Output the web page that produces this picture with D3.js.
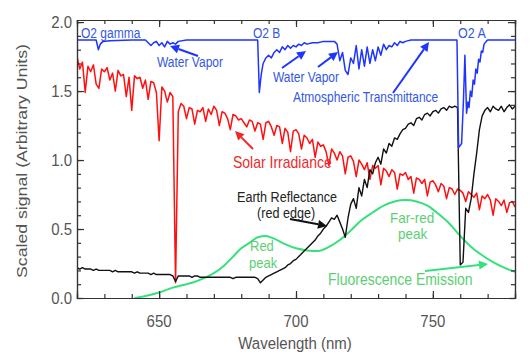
<!DOCTYPE html>
<html><head><meta charset="utf-8">
<script src="https://cdn.jsdelivr.net/npm/d3@7/dist/d3.min.js"></script>
<style>body{margin:0;background:#fff}svg{display:block;font-family:"Liberation Sans",Arial,sans-serif}</style>
</head><body><svg id="c" width="530" height="359"></svg>
<script>
// ---------- data ----------
const wlStart = 620;                 // first wavelength of 1 nm grids (nm)
const solarIrradiance = [
 1.75,1.66,1.71,1.49,1.68,1.64,1.69,1.55,1.52,1.66,
 1.64,1.67,1.58,1.63,1.50,1.65,1.61,1.62,1.46,1.60,
 1.36,1.61,1.59,1.60,1.52,1.58,1.44,1.57,1.56,1.49,
 1.14,1.53,1.50,1.42,1.49,1.46,0.11,1.35,1.41,1.39,
 1.30,1.38,1.37,1.26,1.36,1.35,1.38,1.28,1.37,1.33,
 1.39,1.36,1.25,1.35,1.34,1.30,1.22,1.33,1.32,1.29,
 1.30,1.27,1.24,1.29,1.28,1.21,1.27,1.26,1.15,1.27,
 1.28,1.24,1.18,1.25,1.24,1.12,1.23,1.20,1.06,1.21,
 1.22,1.19,1.08,1.18,1.16,1.12,1.15,1.02,1.13,1.10,
 1.11,1.06,0.96,1.08,1.05,1.00,1.06,1.03,0.90,1.02,
 1.03,0.99,0.88,1.00,0.97,0.93,0.98,0.86,0.96,0.94,
 0.96,0.82,0.94,0.92,0.88,0.93,0.91,0.79,0.90,0.89,
 0.91,0.86,0.88,0.76,0.87,0.86,0.83,0.86,0.74,0.84,
 0.85,0.82,0.77,0.83,0.81,0.72,0.80,0.79,0.75,0.79,
 0.78,0.76,0.70,0.77,0.75,0.73,0.76,0.64,0.74,0.72,
 0.75,0.71,0.60,0.72,0.70,0.67,0.71,0.62,0.69,0.70,
 0.66];
const earthReflectance = [
 0.22,0.21,0.22,0.21,0.21,0.21,0.20,0.21,0.20,0.20,
 0.20,0.20,0.20,0.19,0.20,0.19,0.19,0.19,0.19,0.19,
 0.19,0.18,0.19,0.18,0.18,0.18,0.18,0.17,0.18,0.17,
 0.17,0.17,0.17,0.17,0.17,0.16,0.12,0.16,0.16,0.16,
 0.16,0.16,0.15,0.16,0.16,0.15,0.15,0.15,0.15,0.15,
 0.15,0.15,0.15,0.15,0.15,0.15,0.15,0.14,0.15,0.15,
 0.15,0.15,0.15,0.15,0.15,0.15,0.14,0.11,0.13,0.15,
 0.16,0.17,0.18,0.19,0.20,0.21,0.22,0.24,0.25,0.27,
 0.28,0.30,0.32,0.34,0.36,0.38,0.40,0.42,0.45,0.47,
 0.50,0.52,0.55,0.58,0.57,0.60,0.55,0.50,0.44,0.58,
 0.68,0.72,0.65,0.80,0.74,0.86,0.80,0.93,0.90,0.98,
 1.02,0.97,1.08,1.05,1.12,1.10,1.16,1.15,1.19,1.22,
 1.23,1.26,1.27,1.25,1.30,1.31,1.29,1.33,1.34,1.32,
 1.35,1.36,1.34,1.37,1.38,1.36,1.39,1.38,1.39,1.38,
 0.24,0.26,0.65,0.62,0.72,0.90,1.05,1.22,1.32,1.36,
 1.38,1.35,1.39,1.37,1.36,1.39,1.35,1.38,1.40,1.37,
 1.39];
const transNm = [620,627,627.8,628.5,629.5,632,640,645,646,647,648,649,650,651,652,653,654,655,656,657,660,
 686,686.6,687.3,688,689,690,691,692,693,694,695,696,697,698,699,700,701,702,703,704,706,708,710,714,
 715,716,717,718,719,720,721,722,723,724,725,726,727,728,729,730,731,732,733,734,735,736,737,738,739,740,742,
 758.8,759.4,760.5,761.2,761.7,762.3,762.8,763.2,763.7,764.2,764.7,765.2,765.7,766.2,766.7,767.2,767.7,768.2,768.7,769.5,770,780];
const transmittance = [1.87,1.87,1.80,1.84,1.86,1.865,1.87,1.87,1.85,1.83,1.85,1.86,1.83,1.85,1.82,1.86,1.84,1.85,1.84,1.86,1.87,
 1.87,1.49,1.62,1.70,1.74,1.76,1.74,1.78,1.80,1.78,1.82,1.80,1.83,1.81,1.83,1.82,1.84,1.83,1.85,1.84,1.85,1.85,1.86,1.86,
 1.84,1.72,1.78,1.65,1.62,1.74,1.70,1.83,1.66,1.80,1.68,1.82,1.70,1.80,1.72,1.82,1.76,1.84,1.80,1.83,1.82,1.85,1.83,1.86,1.85,1.86,1.87,
 1.87,1.09,1.12,1.45,1.76,1.34,1.42,1.38,1.50,1.46,1.58,1.55,1.66,1.63,1.73,1.71,1.79,1.78,1.84,1.86,1.87,1.87];
const fluorNm = [641,645,650,655,658,662,666,670,674,677,680,683,686,689,692,696,700,704,708,712,716,720,724,728,732,736,740,744,748,752,756,760,764,768,772,776,780];
const fluorescence = [0.0,0.015,0.04,0.075,0.09,0.11,0.14,0.18,0.24,0.30,0.36,0.40,0.44,0.45,0.43,0.39,0.36,0.345,0.34,0.37,0.42,0.49,0.565,0.62,0.67,0.70,0.71,0.70,0.67,0.61,0.54,0.45,0.37,0.31,0.26,0.22,0.19];
const xMajorTicks = [650,700,750];
const yMajorTicks = [0.0,0.5,1.0,1.5,2.0];

// ---------- layout ----------
const svg = d3.select('#c');
const L=77,R=515,T=20,B=298, SY=1.15;
const x = d3.scaleLinear([620,780],[L,R]);
const y = d3.scaleLinear([0,2.015],[B,T]);
const BLUE='#1e35ff', BLUET='#3558e0', RED='#ff1010', REDT='#f0282c', GREEN='#36e07a', GREENT='#5ccf74', GREY='#555';

svg.append('clipPath').attr('id','clip').append('rect').attr('x',L).attr('y',T).attr('width',R-L).attr('height',B-T);
const plot = svg.append('g').attr('clip-path','url(#clip)');
const line = d3.line().x(d=>x(d[0])).y(d=>y(d[1]));
const grid = arr => arr.map((v,i)=>[wlStart+i,v]);

plot.append('path').datum(fluorNm.map((n,i)=>[n,fluorescence[i]]))
  .attr('d', line.curve(d3.curveMonotoneX)).attr('fill','none').attr('stroke',GREEN).attr('stroke-width',2);
line.curve(d3.curveLinear);
plot.append('path').datum(grid(solarIrradiance)).attr('d',line).attr('fill','none').attr('stroke',RED).attr('stroke-width',1.5).attr('stroke-linejoin','round');
plot.append('path').datum(grid(earthReflectance)).attr('d',line).attr('fill','none').attr('stroke','#111').attr('stroke-width',1.4).attr('stroke-linejoin','round');
plot.append('path').datum(transNm.map((n,i)=>[n,transmittance[i]])).attr('d',line).attr('fill','none').attr('stroke',BLUE).attr('stroke-width',1.5).attr('stroke-linejoin','round');

// axes (box, inward ticks)
const xMinor = d3.range(620,781,10), yMinor = d3.range(0,21).map(i=>i/10);
function ax(gen, scale, vals, size, tr){
  const g = svg.append('g').attr('transform',tr).call(gen(scale).tickValues(vals).tickSize(-size).tickFormat(''));
  g.selectAll('path,line').attr('stroke','#333').attr('stroke-width',1.2);
  return g;
}
ax(d3.axisBottom,x,xMinor,4,`translate(0,${B})`); ax(d3.axisBottom,x,xMajorTicks,7,`translate(0,${B})`);
ax(d3.axisTop,x,xMinor,4,`translate(0,${T})`); ax(d3.axisTop,x,xMajorTicks,7,`translate(0,${T})`);
ax(d3.axisLeft,y,yMinor,4,`translate(${L},0)`); ax(d3.axisLeft,y,yMajorTicks,7,`translate(${L},0)`);
ax(d3.axisRight,y,yMinor,4,`translate(${R},0)`); ax(d3.axisRight,y,yMajorTicks,7,`translate(${R},0)`);

function txt(s,px,py,size,color,anchor){
  svg.append('text').attr('transform',`translate(${px},${py}) scale(1,${SY})`)
    .attr('font-size',size).attr('fill',color).attr('text-anchor',anchor||'start').text(s);
}
xMajorTicks.forEach(v=>txt(String(v),x(v),327,15,GREY,'middle'));
yMajorTicks.forEach(v=>txt(v.toFixed(1),72,y(v)+6,15,GREY,'end'));
txt('Wavelength (nm)',295,349,15,GREY,'middle');
svg.append('text').attr('transform','translate(27,161) rotate(-90)').attr('font-size',15).attr('fill',GREY)
  .attr('text-anchor','middle').attr('textLength',234).attr('lengthAdjust','spacingAndGlyphs').text('Scaled signal (Arbitrary Units)');

// annotations
txt('O2 gamma',81,38,12,BLUET); txt('O2 B',253,38,12,BLUET); txt('O2 A',458,38,12.5,BLUET);
txt('Water Vapor',157,67,12,BLUET); txt('Water Vapor',273,82,12,BLUET);
txt('Atmospheric  Transmittance',293,102,12,BLUET);
txt('Solar Irradiance',233,168,14,REDT);
txt('Earth Reflectance',237,202,12.6,'#222'); txt('(red edge)',257,218,12.6,'#222');
txt('Red',250,251,13,GREENT); txt('peak',249,268,13,GREENT);
txt('Far-red',390,223,13.5,GREENT); txt('peak',398,239,13.5,GREENT);
txt('Fluorescence Emission',328,285,14,GREENT);

const arrows = [
 {t:[198,56],h:[170,46],c:BLUE},{t:[282,68],h:[306,51],c:BLUE},{t:[318,67],h:[338,52],c:BLUE},
 {t:[393,93],h:[429,42],c:BLUE},{t:[253,149],h:[235,131],c:REDT},{t:[290,219],h:[327,226],c:'#111'},
 {t:[425,271],h:[488,264],c:GREEN}];
arrows.forEach(a=>{
  const dx=a.h[0]-a.t[0], dy=a.h[1]-a.t[1], len=Math.hypot(dx,dy), ux=dx/len, uy=dy/len;
  const hl=9, hw=4.5, bx=a.h[0]-ux*hl, by=a.h[1]-uy*hl;
  svg.append('line').attr('x1',a.t[0]).attr('y1',a.t[1]).attr('x2',bx).attr('y2',by).attr('stroke',a.c).attr('stroke-width',2);
  svg.append('path').attr('d',`M${a.h[0]},${a.h[1]}L${bx-uy*hw},${by+ux*hw}L${bx+uy*hw},${by-ux*hw}Z`).attr('fill',a.c);
});
</script></body></html>
